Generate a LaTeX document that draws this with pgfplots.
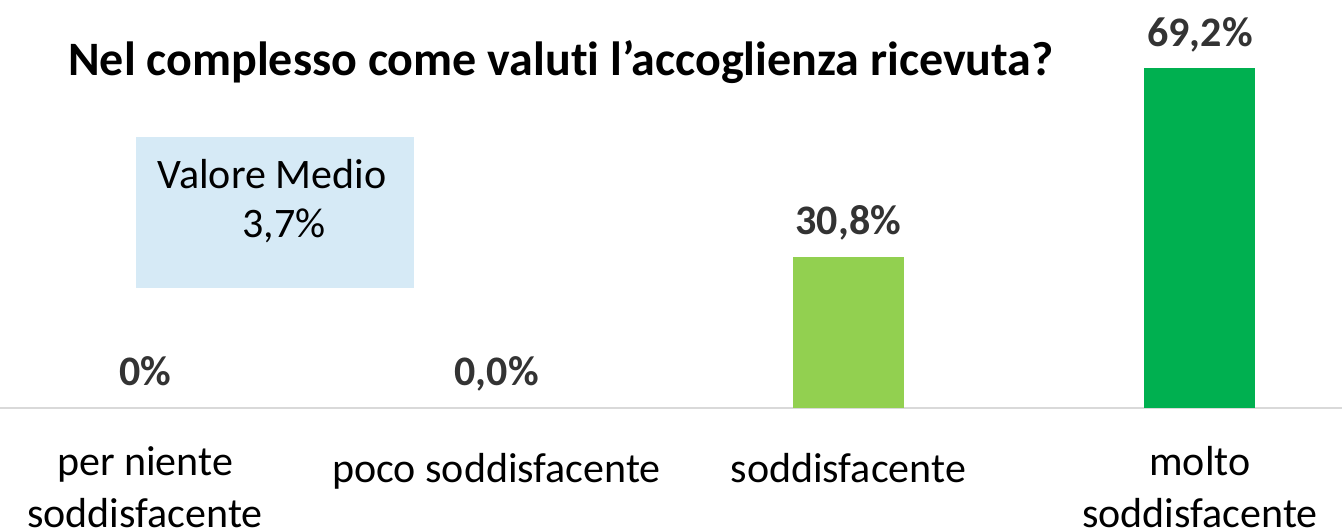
\documentclass[border=0pt]{standalone}
\usepackage{fontspec}
\setmainfont{Carlito}[Ligatures=NoCommon]
\usepackage{pgfplots}
\pgfplotsset{compat=1.18}
\definecolor{verdechiaro}{HTML}{92D050}
\definecolor{verdescuro}{HTML}{00B050}
\definecolor{riquadro}{HTML}{D6EAF6}
\definecolor{linea}{HTML}{D9D9D9}
\definecolor{etich}{HTML}{333333}

\begin{document}
\begin{tikzpicture}
\begin{axis}[
  name=ax,
  scale only axis, width=671pt, height=204pt,
  xmin=-0.4123, xmax=3.404, ymin=0, ymax=83.1,
  clip=false,
  axis x line*=bottom, axis y line=none,
  x axis line style={-, draw=linea, line width=1pt},
  ybar, bar width=55.5pt, bar shift=0pt,
  xtick={0,1,2,3}, major tick length=0pt, ytick=\empty,
  xticklabels={{per niente\\soddisfacente},{poco soddisfacente},{soddisfacente},{molto\\soddisfacente}},
  xticklabel style={font=\fontsize{21}{26}\selectfont, align=center, anchor=north,
    inner sep=0pt, yshift=-19pt, execute at begin node=\strut},
  nodes near coords, point meta=explicit symbolic,
  every node near coord/.append style={font=\fontsize{21}{25}\selectfont\bfseries,
    color=etich, anchor=base, yshift=11pt, inner sep=0pt},
]
% riquadro valore medio
\fill[riquadro] (axis cs:-0.026,24.4) rectangle (axis cs:0.765,55.2);
\node[font=\fontsize{21}{25}\selectfont, anchor=base] at (rel axis cs:0.2027,0.539) {Valore Medio};
\node[font=\fontsize{21}{25}\selectfont, anchor=base] at (rel axis cs:0.2117,0.4167) {3,7\%};

\addplot[draw=none, fill=none] coordinates {(0,0) [0\%] (1,0) [{0,0\%}]};
\addplot[draw=none, fill=verdechiaro] coordinates {(2,30.8) [{30,8\%}]};
\addplot[draw=none, fill=verdescuro] coordinates {(3,69.2) [{69,2\%}]};

\node[font=\fontsize{24}{28}\selectfont\bfseries, anchor=base] at (rel axis cs:0.418,0.8137)
  {Nel complesso come valuti l’accoglienza ricevuta?};
\end{axis}
\pgfresetboundingbox
\path (ax.south west) ++(0,-61.5pt) rectangle (ax.north east);
\end{tikzpicture}
\end{document}
